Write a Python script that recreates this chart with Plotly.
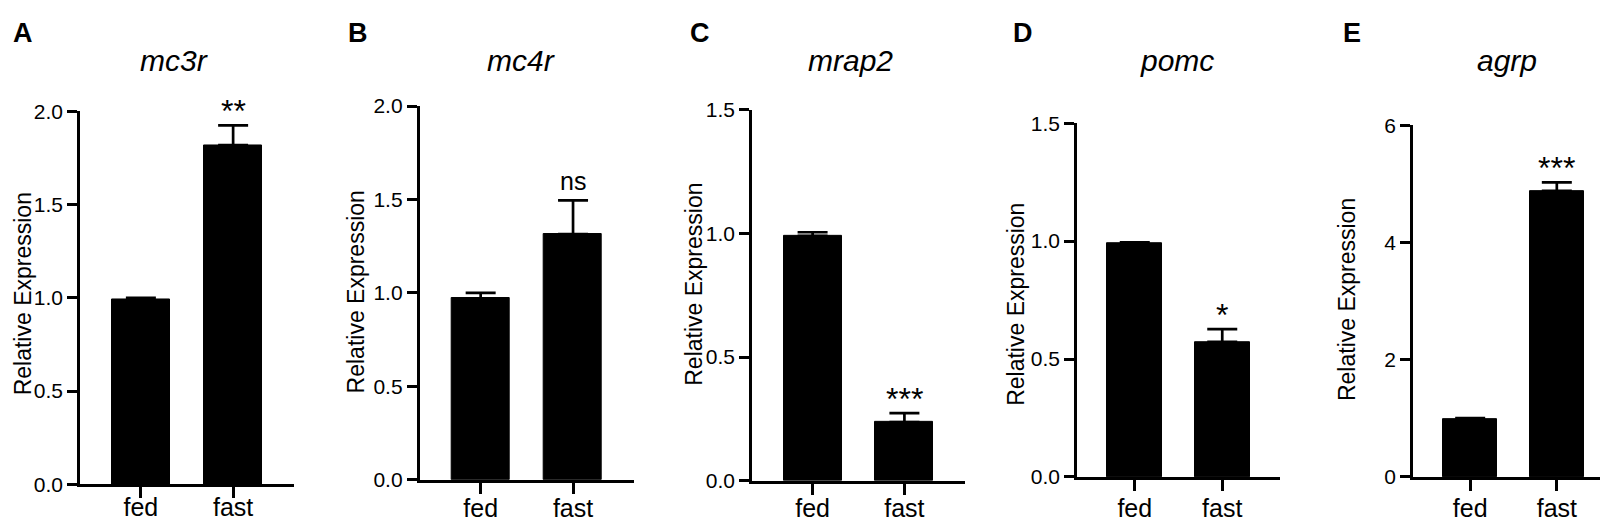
import plotly.graph_objects as go
from plotly.subplots import make_subplots

# data
GENES = ["mc3r", "mc4r", "mrap2", "pomc", "agrp"]
LETTERS = ["A", "B", "C", "D", "E"]
GROUPS = ["fed", "fast"]
MEANS = [
    [0.99, 1.82],
    [0.97, 1.315],
    [0.99, 0.237],
    [0.99, 0.573],
    [0.98, 4.88],
]
SEMS = [
    [0.01, 0.105],
    [0.03, 0.18],
    [0.015, 0.036],
    [0.005, 0.054],
    [0.025, 0.145],
]
SIGNIF = ["**", "ns", "***", "*", "***"]
Y_MAX = [2.0, 2.0, 1.5, 1.5, 6]
Y_TICKS = [
    [0, 0.5, 1.0, 1.5, 2.0],
    [0, 0.5, 1.0, 1.5, 2.0],
    [0, 0.5, 1.0, 1.5],
    [0, 0.5, 1.0, 1.5],
    [0, 2, 4, 6],
]
Y_TICK_TEXT = [
    ["0.0", "0.5", "1.0", "1.5", "2.0"],
    ["0.0", "0.5", "1.0", "1.5", "2.0"],
    ["0.0", "0.5", "1.0", "1.5"],
    ["0.0", "0.5", "1.0", "1.5"],
    ["0", "2", "4", "6"],
]

# panel placement in pixels (figure is 1608 x 521)
W, H = 1608, 521
AX_LEFT = [72, 411.7, 744, 1069, 1405]
AX_RIGHT = [286, 626, 957, 1272, 1606]
AX_TOP = [95.7, 90, 94, 108, 110]
AX_BOTTOM = [485.7, 481, 482, 478, 478]
XLAB_LINE = 474  # common reference for fed/fast, keeps them on the page
YLAB_X = [15, 348, 686, 1008, 1339]
YLAB_Y = [287, 285, 277, 298, 293]
TITLE_X = [166, 513, 842, 1169, 1499]
TITLE_Y = 42
LETTER_X = [3, 338, 680, 1003, 1333]
LETTER_Y = 14

FONT = "Arial, Liberation Sans, sans-serif"


def px_x(v):
    return v / W


def px_y(v):
    return 1 - v / H


fig = make_subplots(rows=1, cols=5)

annotations = []
for i, gene in enumerate(GENES):
    fig.add_trace(
        go.Bar(
            x=GROUPS,
            y=MEANS[i],
            width=0.63,
            marker=dict(color="#000000", line=dict(color="#000000", width=1)),
            error_y=dict(
                type="data",
                symmetric=False,
                array=SEMS[i],
                arrayminus=[0, 0],
                color="#000000",
                thickness=2.7,
                width=15,
            ),
            showlegend=False,
            hoverinfo="skip",
        ),
        row=1,
        col=i + 1,
    )

    n = "" if i == 0 else str(i + 1)
    standoff = int(round(XLAB_LINE - AX_BOTTOM[i]))
    fig.layout["xaxis" + n].update(
        domain=[px_x(AX_LEFT[i]), px_x(AX_RIGHT[i])],
        range=[-0.66, 1.66],
        showline=True,
        linecolor="#000000",
        linewidth=2.7,
        ticks="outside",
        ticklen=11,
        tickwidth=2.7,
        tickcolor="#000000",
        ticklabelstandoff=standoff,
        tickfont=dict(family=FONT, size=25, color="#000000"),
        showgrid=False,
        zeroline=False,
        fixedrange=True,
    )
    fig.layout["yaxis" + n].update(
        domain=[px_y(AX_BOTTOM[i]), px_y(AX_TOP[i])],
        range=[0, Y_MAX[i]],
        tickvals=Y_TICKS[i],
        ticktext=Y_TICK_TEXT[i],
        showline=True,
        linecolor="#000000",
        linewidth=2.7,
        ticks="outside",
        ticklen=10,
        tickwidth=2.7,
        tickcolor="#000000",
        tickfont=dict(family=FONT, size=21, color="#000000"),
        showgrid=False,
        zeroline=False,
        fixedrange=True,
    )

    # significance mark above the fast bar
    mark = SIGNIF[i]
    annotations.append(dict(
        x=GROUPS[1],
        y=MEANS[i][1] + SEMS[i][1],
        xref="x" + n,
        yref="y" + n,
        text=mark,
        showarrow=False,
        yanchor="bottom",
        yshift=3 if mark == "ns" else -6,
        font=dict(family=FONT, size=25 if mark == "ns" else 32, color="#000000"),
    ))
    # gene title
    annotations.append(dict(
        x=px_x(TITLE_X[i]), y=px_y(TITLE_Y), xref="paper", yref="paper",
        text="<i>" + gene + "</i>", showarrow=False,
        xanchor="center", yanchor="middle",
        font=dict(family=FONT, size=30, color="#000000"),
    ))
    # y axis label
    annotations.append(dict(
        x=px_x(YLAB_X[i]), y=px_y(YLAB_Y[i]), xref="paper", yref="paper",
        text="Relative Expression", textangle=-90, showarrow=False,
        xanchor="center", yanchor="middle",
        font=dict(family=FONT, size=23, color="#000000"),
    ))
    # panel letter
    annotations.append(dict(
        x=px_x(LETTER_X[i]), y=px_y(LETTER_Y), xref="paper", yref="paper",
        text="<b>" + LETTERS[i] + "</b>", showarrow=False,
        xanchor="left", yanchor="middle",
        font=dict(family=FONT, size=27, color="#000000"),
    ))

fig.update_layout(
    width=W,
    height=H,
    margin=dict(l=0, r=0, t=0, b=0),
    paper_bgcolor="white",
    plot_bgcolor="white",
    annotations=annotations,
    bargap=0,
)

fig.write_html("out.html")
